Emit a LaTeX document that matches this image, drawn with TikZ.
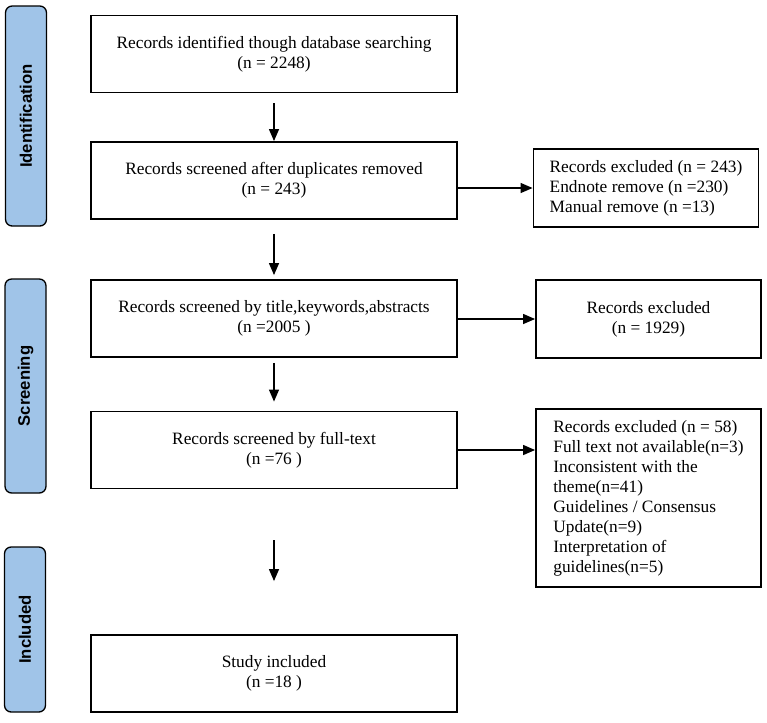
\documentclass[tikz,border=0pt]{standalone}
\usepackage{fontspec}
\setmainfont{Liberation Serif}
\newfontfamily\phasefont{Liberation Sans}
\usetikzlibrary{arrows.meta}
\definecolor{phaseblue}{RGB}{160,196,232}
\tikzset{
  stage/.style={draw, line width=1.4pt, minimum width=274.5pt, minimum height=57.75pt,
    inner sep=0pt, align=center, font=\fontsize{13}{15}\selectfont},
  excl/.style={draw, line width=1.4pt, minimum width=168.75pt,
    inner sep=0pt, align=left, font=\fontsize{13}{15}\selectfont},
  phase/.style={draw, line width=1pt, fill=phaseblue, rounded corners=5pt, rotate=90,
    minimum height=30.75pt, inner sep=0pt, font=\phasefont\bfseries\fontsize{12.5}{15}\selectfont},
  flow/.style={-{Triangle[length=9pt,width=7.5pt]}, line width=1pt},
}
\begin{document}
\begin{tikzpicture}[x=0.75pt,y=-0.75pt]
  \useasboundingbox (0,0) rectangle (767,722);
  % phases
  \node[phase, minimum width=165pt] (ident) at (26,116) {Identification};
  \node[phase, minimum width=160.5pt] (screen) at (25.5,386) {Screening};
  \node[phase, minimum width=123.75pt] (incl) at (25,629.5) {Included};
  % main column
  \node[stage] (found) at (274,54) {Records identified though database searching\\(n = 2248)};
  \node[stage] (dedup) at (274,180.5) {Records screened after duplicates removed\\(n = 243)};
  \node[stage] (title) at (274,318.5) {Records screened by title,keywords,abstracts\\(n =2005 )};
  \node[stage] (full) at (274,450) {Records screened by full-text\\(n =76 )};
  \node[stage] (study) at (274,673.5) {Study included\\(n =18 )};
  % exclusions
  \node[excl, minimum height=58.5pt] (exa) at (646,188) {Records excluded (n = 243)\\Endnote remove (n =230)\\Manual remove (n =13)};
  \node[excl, minimum height=58.5pt, align=center] (exb) at (648.5,319) {Records excluded\\(n = 1929)};
  \node[excl, minimum height=133.5pt] (exc) at (648.5,498) {Records excluded (n = 58)\\Full text not available(n=3)\\Inconsistent with the\\theme(n=41)\\Guidelines / Consensus\\Update(n=9)\\Interpretation of\\guidelines(n=5)};
  % arrows
  \draw[flow, shorten <=7.5pt] (found.south) -- (dedup.north);
  \draw[flow, shorten <=10.5pt, shorten >=3pt] (dedup.south) -- (title.north);
  \draw[flow, shorten <=3.75pt, shorten >=6.75pt] (title.south) -- (full.north);
  \draw[flow, shorten <=38.25pt, shorten >=39.75pt] (full.south) -- (study.north);
  \draw[flow] (dedup.east |- exa) -- (exa.west);
  \draw[flow] (title.east |- exb) -- (exb.west);
  \draw[flow] (full.east) -- (full -| exc.west);
\end{tikzpicture}
\end{document}
